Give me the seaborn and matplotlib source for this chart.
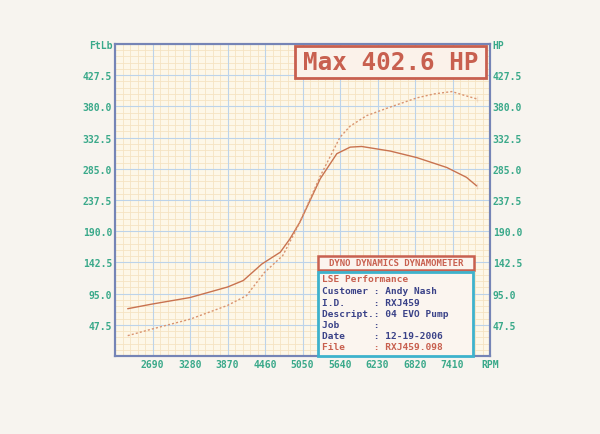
"""
Dyno sheet: torque (FtLb) and power (HP) against engine speed.
"""

import matplotlib.pyplot as plt
import seaborn as sns
import pandas as pd
import numpy as np
from matplotlib.patches import Rectangle

# Torque curve (solid line)
torque_rpm = [2300, 2680, 3280, 3870, 4120, 4410, 4700, 4850, 5010, 5330, 5590,
              5800, 5980, 6430, 6850, 7320, 7630, 7790, 7790]
torque_ftlb = [72, 79, 89, 105, 115, 140, 158, 178, 204, 270, 308,
               318, 319, 312, 302, 287, 272, 264, 254]

# Power curve (dotted line)
power_rpm = [2300, 2680, 3280, 3870, 4170, 4330, 4450, 4740, 4980, 5330, 5640,
             5800, 6060, 6430, 6850, 7120, 7400, 7590, 7790, 7790]
power_hp = [31, 41, 56, 77, 92, 112, 127, 153, 198, 274, 333,
            350, 366, 379, 393, 399, 402.6, 397, 396, 387]

x_ticks = [2690, 3280, 3870, 4460, 5050, 5640, 6230, 6820, 7410]
y_ticks = [47.5, 95.0, 142.5, 190.0, 237.5, 285.0, 332.5, 380.0, 427.5]

max_label = "Max 402.6 HP"
header = "DYNO DYNAMICS DYNAMOMETER"
company = "LSE Performance"
info = [("Customer", "Andy Nash"), ("I.D.", "RXJ459"), ("Descript.", "04 EVO Pump"),
        ("Job", ""), ("Date", "12-19-2006"), ("File", "RXJ459.098")]

# Colours
PAPER = "#f7f4ef"
FACE = "#fdf7e8"
MINOR = "#f5e3c2"
MAJOR = "#bcd3ea"
SPINE = "#7584b6"
TICK = "#3aa98a"
RED = "#c8604f"
TORQUE_C = "#c8724f"
POWER_C = "#d9936f"
BLUE_TXT = "#3a4288"
CYAN = "#3eb2cc"

sns.set_style("white")
plt.rcParams['font.family'] = ['DejaVu Sans Mono', 'DejaVu Sans']

W, H = 600, 435
fig = plt.figure(figsize=(6, 4.35), dpi=100, facecolor=PAPER)
ax = fig.add_axes([115 / W, 1 - 357 / H, 375 / W, 312 / H])
ax.set_facecolor(FACE)

torque_df = pd.DataFrame({"rpm": torque_rpm, "val": torque_ftlb})
power_df = pd.DataFrame({"rpm": power_rpm, "val": power_hp})

sns.lineplot(data=torque_df, x="rpm", y="val", sort=False, ax=ax,
             color=TORQUE_C, linewidth=1.0, zorder=3)
sns.lineplot(data=power_df, x="rpm", y="val", sort=False, ax=ax,
             color=POWER_C, linewidth=1.0, linestyle=(0, (1.5, 1.5)), zorder=3)

ax.set_xlim(2100, 8000)
ax.set_ylim(0, 475)

# Graph paper grid: fine cells, then the major lines on top
for v in np.arange(2100, 8001, 118):
    ax.axvline(v, color=MINOR, linewidth=0.6, zorder=0)
for v in np.arange(0, 476, 9.5):
    ax.axhline(v, color=MINOR, linewidth=0.6, zorder=0)
for v in np.arange(2100, 8001, 590):
    ax.axvline(v, color=MAJOR, linewidth=0.8, zorder=1)
for v in np.arange(0, 476, 47.5):
    ax.axhline(v, color=MAJOR, linewidth=0.8, zorder=1)

ax.set_xticks(x_ticks + [8000])
ax.set_xticklabels([str(t) for t in x_ticks] + ["RPM"])
ax.set_yticks(y_ticks + [475])
ax.set_yticklabels([f"{t:.1f}" for t in y_ticks] + ["FtLb"])
ax.tick_params(axis='both', which='both', length=0, colors=TICK, labelsize=7, pad=2)
for lbl in ax.get_xticklabels() + ax.get_yticklabels():
    lbl.set_fontweight('bold')
ax.set_xlabel("")
ax.set_ylabel("")

ax2 = ax.twinx()
ax2.set_ylim(0, 475)
ax2.set_yticks(y_ticks + [475])
ax2.set_yticklabels([f"{t:.1f}" for t in y_ticks] + ["HP"])
ax2.tick_params(axis='y', length=0, colors=TICK, labelsize=7, pad=2)
for lbl in ax2.get_yticklabels():
    lbl.set_fontweight('bold')
ax2.grid(False)

for a in (ax, ax2):
    for s in a.spines.values():
        s.set_color(SPINE)
        s.set_linewidth(1.5)


def box(x0, y0, x1, y1, color, lw=1.8, fill=None):
    """Rectangle given in figure pixels (top-left origin)."""
    r = Rectangle((x0 / W, 1 - y1 / H), (x1 - x0) / W, (y1 - y0) / H,
                  transform=fig.transFigure, fill=fill is not None,
                  facecolor=fill if fill else "none", edgecolor=color,
                  linewidth=lw, zorder=5)
    fig.add_artist(r)


def text(x, y, s, color, size, **kw):
    fig.text(x / W, 1 - y / H, s, color=color, fontsize=size, zorder=6, **kw)


# Max HP banner
box(295, 47, 486, 79, RED, lw=2.0, fill="#fbf2ea")
text(390.5, 63.5, max_label, RED, 17.5, fontweight='bold', ha='center', va='center')

# Dyno header + info box
box(318, 257, 474, 271, RED, lw=1.8, fill="#fbf4ee")
text(396, 264, header, RED, 6.5, fontweight='bold', ha='center', va='center')
box(318, 273, 473, 357, CYAN, lw=2.0, fill="#fbf5ef")
text(322, 280, company, RED, 6.8, fontweight='bold', va='center')
for i, (k, v) in enumerate(info):
    line = f"{k:<9}: {v}"
    col = RED if k == "File" else BLUE_TXT
    text(322, 292 + i * 11.2, line, col, 6.8, fontweight='bold', va='center')

plt.savefig("out.png", dpi=100, facecolor=PAPER)
plt.close()
